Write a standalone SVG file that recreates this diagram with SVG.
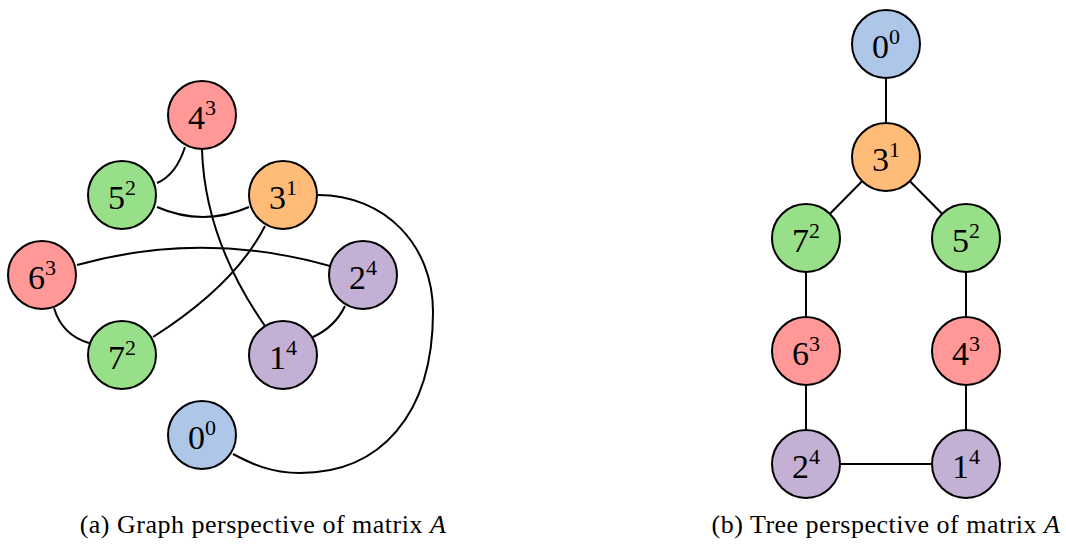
<svg xmlns="http://www.w3.org/2000/svg" width="1066" height="545" viewBox="0 0 1066 545">
<style>
.n{stroke:#000;stroke-width:2}
.red{fill:#ff9896}.green{fill:#98df8a}.orange{fill:#ffbb78}.purple{fill:#c5b0d5}.blue{fill:#aec7e8}
.e{fill:none;stroke:#000;stroke-width:2}
.t{font-family:"Liberation Serif","DejaVu Serif",serif;font-size:34px;text-anchor:middle;fill:#000}
.s{font-size:22px}
.cap{font-family:"Liberation Serif","DejaVu Serif",serif;font-size:26px;text-anchor:middle;fill:#000;letter-spacing:0.5px}
</style>
<rect width="1066" height="545" fill="#fff"/>
<g id="edges">
<path class="e" d="M185,147 Q176,175 157,183"/>
<path class="e" d="M202,150 Q205,240 265,326"/>
<path class="e" d="M157,207 Q203,227 249,207"/>
<path class="e" d="M265,226 Q235,285 153,337"/>
<path class="e" d="M77,265 Q203,230 330,266"/>
<path class="e" d="M54,308 Q62,335 89,343"/>
<path class="e" d="M345,306 Q335,327 313,337"/>
<path class="e" d="M318,195 C385,195 433,245 433,312 C433,415 380,473 300,473 C270,473 250,463 233,454"/>
<line class="e" x1="886" y1="44" x2="886" y2="157"/>
<line class="e" x1="886" y1="157" x2="806" y2="238"/>
<line class="e" x1="886" y1="157" x2="966" y2="238"/>
<line class="e" x1="806" y1="238" x2="806" y2="351"/>
<line class="e" x1="966" y1="238" x2="966" y2="351"/>
<line class="e" x1="806" y1="351" x2="806" y2="464"/>
<line class="e" x1="966" y1="351" x2="966" y2="464"/>
<line class="e" x1="806" y1="464" x2="966" y2="464"/>
</g>
<g id="a4"><circle class="n red" cx="202" cy="115" r="34"/><text class="t" x="202" y="129">4<tspan class="s" dy="-14">3</tspan></text></g>
<g id="a5"><circle class="n green" cx="122" cy="195" r="34"/><text class="t" x="122" y="209">5<tspan class="s" dy="-14">2</tspan></text></g>
<g id="a3"><circle class="n orange" cx="283" cy="195" r="34"/><text class="t" x="283" y="209">3<tspan class="s" dy="-14">1</tspan></text></g>
<g id="a6"><circle class="n red" cx="42" cy="275" r="34"/><text class="t" x="42" y="289">6<tspan class="s" dy="-14">3</tspan></text></g>
<g id="a2"><circle class="n purple" cx="363" cy="275" r="34"/><text class="t" x="363" y="289">2<tspan class="s" dy="-14">4</tspan></text></g>
<g id="a7"><circle class="n green" cx="122" cy="355" r="34"/><text class="t" x="122" y="369">7<tspan class="s" dy="-14">2</tspan></text></g>
<g id="a1"><circle class="n purple" cx="283" cy="355" r="34"/><text class="t" x="283" y="369">1<tspan class="s" dy="-14">4</tspan></text></g>
<g id="a0"><circle class="n blue" cx="202" cy="435" r="34"/><text class="t" x="202" y="449">0<tspan class="s" dy="-14">0</tspan></text></g>
<g id="b0"><circle class="n blue" cx="886" cy="44" r="34"/><text class="t" x="886" y="58">0<tspan class="s" dy="-14">0</tspan></text></g>
<g id="b3"><circle class="n orange" cx="886" cy="157" r="34"/><text class="t" x="886" y="171">3<tspan class="s" dy="-14">1</tspan></text></g>
<g id="b7"><circle class="n green" cx="806" cy="238" r="34"/><text class="t" x="806" y="252">7<tspan class="s" dy="-14">2</tspan></text></g>
<g id="b5"><circle class="n green" cx="966" cy="238" r="34"/><text class="t" x="966" y="252">5<tspan class="s" dy="-14">2</tspan></text></g>
<g id="b6"><circle class="n red" cx="806" cy="351" r="34"/><text class="t" x="806" y="365">6<tspan class="s" dy="-14">3</tspan></text></g>
<g id="b4"><circle class="n red" cx="966" cy="351" r="34"/><text class="t" x="966" y="365">4<tspan class="s" dy="-14">3</tspan></text></g>
<g id="b2"><circle class="n purple" cx="806" cy="464" r="34"/><text class="t" x="806" y="478">2<tspan class="s" dy="-14">4</tspan></text></g>
<g id="b1"><circle class="n purple" cx="966" cy="464" r="34"/><text class="t" x="966" y="478">1<tspan class="s" dy="-14">4</tspan></text></g>
<g id="captions">
<text class="cap" x="263" y="533">(a) Graph perspective of matrix <tspan font-style="italic">A</tspan></text>
<text class="cap" x="886" y="533">(b) Tree perspective of matrix <tspan font-style="italic">A</tspan></text>
</g>
</svg>
